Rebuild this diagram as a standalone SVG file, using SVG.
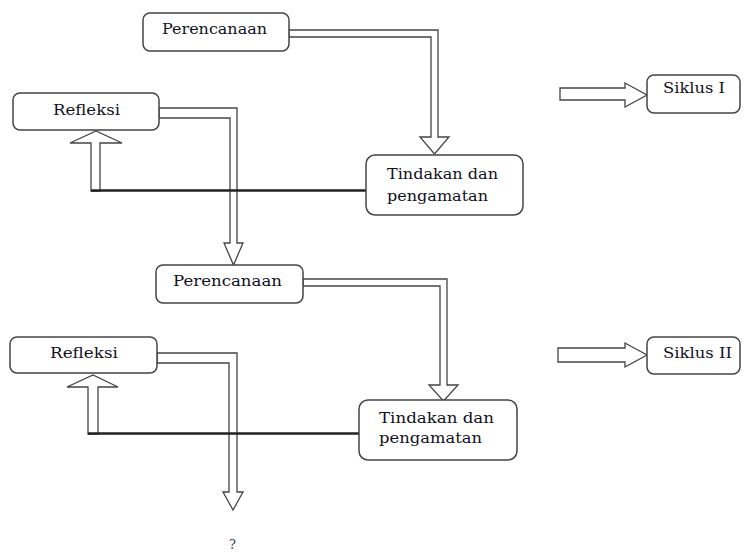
<svg xmlns="http://www.w3.org/2000/svg" width="744" height="555" viewBox="0 0 744 555">
<style>
.box{fill:#fff;stroke:#444;stroke-width:1.5}
.arr{fill:#fff;stroke:#444;stroke-width:1.3;stroke-linejoin:miter}
.ln{stroke:#222;stroke-width:2.5;fill:none}
text{font-family:"DejaVu Serif","Liberation Serif",serif;font-size:15px;fill:#111122}
</style>
<rect width="744" height="555" fill="#fff"/>
<g id="connectors">
<path class="arr" d="M289,30 H438 V137 H449 L434.5,154 L420,137 H431 V37 H289 Z"/>
<path class="arr" d="M159,108 H237 V243 H243 L233.5,265 L224,243 H230 V118 H159 Z"/>
<path class="arr" d="M303,279 H447 V385 H458 L443.5,401 L429,385 H440 V286 H303 Z"/>
<path class="arr" d="M157,353 H237 V492 H243 L233,510 L223,492 H229 V363 H157 Z"/>
<path class="arr" d="M91,191 V143 H70 L96,131 L122,143 H100 V191 Z"/>
<line class="ln" x1="91" y1="190.5" x2="366" y2="190.5"/>
<path class="arr" d="M88,434 V387 H67 L93,375 L118,387 H98 V434 Z"/>
<line class="ln" x1="88" y1="433.5" x2="359" y2="433.5"/>
<path class="arr" d="M560,88 H625 V83 L647,95 L625,107 V100 H560 Z"/>
<path class="arr" d="M558,348 H625 V343 L647,355 L625,367 V362 H558 Z"/>
</g>
<g id="perencanaan1">
<rect class="box" x="143" y="13" width="146" height="38" rx="7"/>
<text x="162" y="33.5" textLength="105" lengthAdjust="spacingAndGlyphs">Perencanaan</text>
</g>
<g id="refleksi1">
<rect class="box" x="13" y="93" width="146" height="37" rx="7"/>
<text x="53" y="115" textLength="67" lengthAdjust="spacingAndGlyphs">Refleksi</text>
</g>
<g id="tindakan1">
<rect class="box" x="366" y="155" width="157" height="60" rx="9"/>
<text x="387" y="179" textLength="111" lengthAdjust="spacingAndGlyphs">Tindakan dan</text>
<text x="387" y="201" textLength="101" lengthAdjust="spacingAndGlyphs">pengamatan</text>
</g>
<g id="siklus1">
<rect class="box" x="647" y="75" width="93" height="38" rx="7"/>
<text x="663" y="93" textLength="62" lengthAdjust="spacingAndGlyphs">Siklus I</text>
</g>
<g id="perencanaan2">
<rect class="box" x="156" y="265" width="147" height="38" rx="7"/>
<text x="173" y="286" textLength="109" lengthAdjust="spacingAndGlyphs">Perencanaan</text>
</g>
<g id="refleksi2">
<rect class="box" x="10" y="337" width="147" height="36" rx="7"/>
<text x="50" y="358" textLength="68" lengthAdjust="spacingAndGlyphs">Refleksi</text>
</g>
<g id="tindakan2">
<rect class="box" x="359" y="400" width="158" height="60" rx="9"/>
<text x="379" y="423" textLength="115" lengthAdjust="spacingAndGlyphs">Tindakan dan</text>
<text x="379" y="443" textLength="103" lengthAdjust="spacingAndGlyphs">pengamatan</text>
</g>
<g id="siklus2">
<rect class="box" x="647" y="337" width="93" height="37" rx="7"/>
<text x="663" y="358" textLength="69" lengthAdjust="spacingAndGlyphs">Siklus II</text>
</g>
<g id="question">
<text x="229" y="549" style="font-size:13px;fill:#2a3560">?</text>
</g>
</svg>
